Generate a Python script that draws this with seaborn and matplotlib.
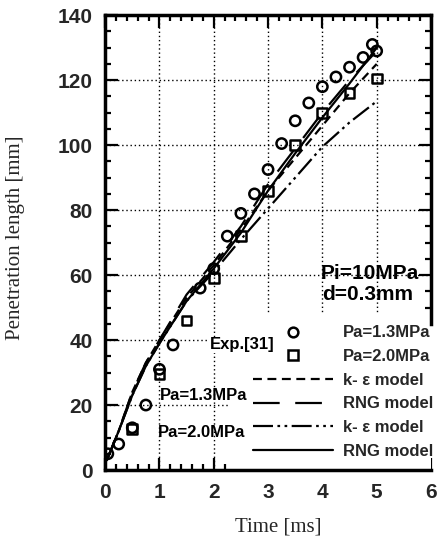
import matplotlib
matplotlib.use("Agg")
import matplotlib.pyplot as plt
from matplotlib.lines import Line2D
from matplotlib.patches import Rectangle
from matplotlib.ticker import MultipleLocator
import numpy as np
import pandas as pd
import seaborn as sns

# experimental points, Exp.[31]
t_13 = [0.05, 0.25, 0.5, 0.75, 1.0, 1.25, 1.75, 2.0, 2.25, 2.5, 2.75, 3.0, 3.25, 3.5, 3.75, 4.0, 4.25, 4.5, 4.75, 4.92, 5.0]
y_13 = [5, 8, 13, 20, 31, 38.5, 56, 62, 72, 79, 85, 92.5, 100.5, 107.5, 113, 118, 121, 124, 127, 131, 129]
t_20 = [0.5, 1.0, 1.5, 2.0, 2.5, 3.0, 3.5, 4.0, 4.5, 5.0]
y_20 = [12.5, 29.5, 46, 59, 72, 86, 100, 110, 116, 120.5]

# model curves
t_model = [0.03, 0.25, 0.5, 0.75, 1.0, 1.5, 2.0, 2.5, 3.0, 3.5, 4.0, 4.5, 5.0]
ke_13 = [3, 12, 24, 33, 40, 53, 63, 74, 86, 96, 106, 116, 125]
rng_13 = [3, 12, 24, 33, 40, 54, 64, 75, 88, 99, 110, 120, 129]
ke_20 = [3, 12, 23, 32, 39, 52, 61, 71, 80.5, 90, 99.5, 107, 113.5]
rng_20 = [3, 12, 23, 32, 39, 52, 62, 73, 86, 97.5, 108.5, 119, 130]

sns.set_style("ticks")
plt.rcParams['font.family'] = ['Liberation Sans', 'DejaVu Sans']

fig = plt.figure(figsize=(4.38, 5.44), dpi=100)
ax = fig.add_axes([0.240, 0.136, 0.744, 0.836])

df_exp13 = pd.DataFrame({"t": t_13, "y": y_13})
df_exp20 = pd.DataFrame({"t": t_20, "y": y_20})
df_mod = pd.DataFrame({"t": t_model, "ke13": ke_13, "rng13": rng_13, "ke20": ke_20, "rng20": rng_20})

styles = {
    "ke13": (0, (4, 2.5)),
    "rng13": (0, (12, 7)),
    "ke20": (0, (9, 2, 1.2, 2, 1.2, 2)),
    "rng20": "-",
}
for col, ls in styles.items():
    sns.lineplot(data=df_mod, x="t", y=col, ax=ax, color="black", linewidth=1.6,
                 linestyle=ls, zorder=4)

sns.scatterplot(data=df_exp13, x="t", y="y", ax=ax, marker="o", s=55,
                facecolor="none", edgecolor="black", linewidth=1.8, zorder=5)
sns.scatterplot(data=df_exp20, x="t", y="y", ax=ax, marker="s", s=50,
                facecolor="none", edgecolor="black", linewidth=1.8, zorder=5)

ax.set_xlim(0, 6)
ax.set_ylim(0, 140)
ax.xaxis.set_major_locator(MultipleLocator(1))
ax.xaxis.set_minor_locator(MultipleLocator(0.2))
ax.yaxis.set_major_locator(MultipleLocator(20))
ax.yaxis.set_minor_locator(MultipleLocator(5))
ax.tick_params(which="both", direction="in", top=True, right=True, width=1.6, color="black")
ax.tick_params(which="major", length=9, pad=9)
ax.tick_params(which="minor", length=4.5)
for lab in ax.get_xticklabels() + ax.get_yticklabels():
    lab.set_fontsize(15)
    lab.set_fontweight("bold")

for sp in ax.spines.values():
    sp.set_linewidth(2.5)
    sp.set_color("black")
ax.spines["right"].set_bounds(45, 140)

ax.grid(True, which="major", linestyle=(0, (1, 2)), color="black", linewidth=1.0)

# white panel behind the legend (hides grid and ticks there, as in the original)
ax.add_patch(Rectangle((0.383, 0.0), 0.617, 0.342, transform=ax.transAxes,
                       facecolor="white", edgecolor="none", zorder=2.2))

ax.set_xlabel("Time [ms]", fontfamily="Liberation Serif", fontsize=15, labelpad=12)
ax.set_ylabel("Penetration length [mm]", fontfamily="Liberation Serif", fontsize=15, labelpad=12)
ax.xaxis.set_label_coords(0.53, -0.105)
ax.yaxis.set_label_coords(-0.245, 0.51)

txt = dict(fontsize=15, fontweight="bold", color="black", zorder=6)
ax.text(3.96, 60.5, "Pi=10MPa", ha="left", va="center", **txt)
ax.text(4.0, 54, "d=0.3mm", ha="left", va="center", **txt)
small = dict(fontsize=12, fontweight="bold", color="black", zorder=6)
ax.text(1.93, 38.5, "Exp.[31]", ha="left", va="center",
        bbox=dict(facecolor="white", edgecolor="none", pad=0.5), **small)
ax.text(1.0, 23, "Pa=1.3MPa", ha="left", va="center", **small)
ax.text(0.98, 11.7, "Pa=2.0MPa", ha="left", va="center", **small)

handles = [
    Line2D([], [], linestyle="none", marker="o", markersize=7, markerfacecolor="none",
           markeredgecolor="black", markeredgewidth=1.8),
    Line2D([], [], linestyle="none", marker="s", markersize=7, markerfacecolor="none",
           markeredgecolor="black", markeredgewidth=1.8),
    Line2D([], [], color="black", linewidth=1.6, linestyle=styles["ke13"]),
    Line2D([], [], color="black", linewidth=1.6, linestyle=styles["rng13"]),
    Line2D([], [], color="black", linewidth=1.6, linestyle=styles["ke20"]),
    Line2D([], [], color="black", linewidth=1.6, linestyle=styles["rng20"]),
]
labels = ["Pa=1.3MPa", "Pa=2.0MPa", "k- ε model", "RNG model", "k- ε model", "RNG model"]
ax.legend(handles, labels, loc="upper right", bbox_to_anchor=(1.008, 0.318),
          frameon=False, prop=dict(size=12, weight="bold"), handlelength=4.8,
          handletextpad=0.6, labelspacing=0.52, borderpad=0, borderaxespad=0)

fig.savefig("out.png", dpi=100)
